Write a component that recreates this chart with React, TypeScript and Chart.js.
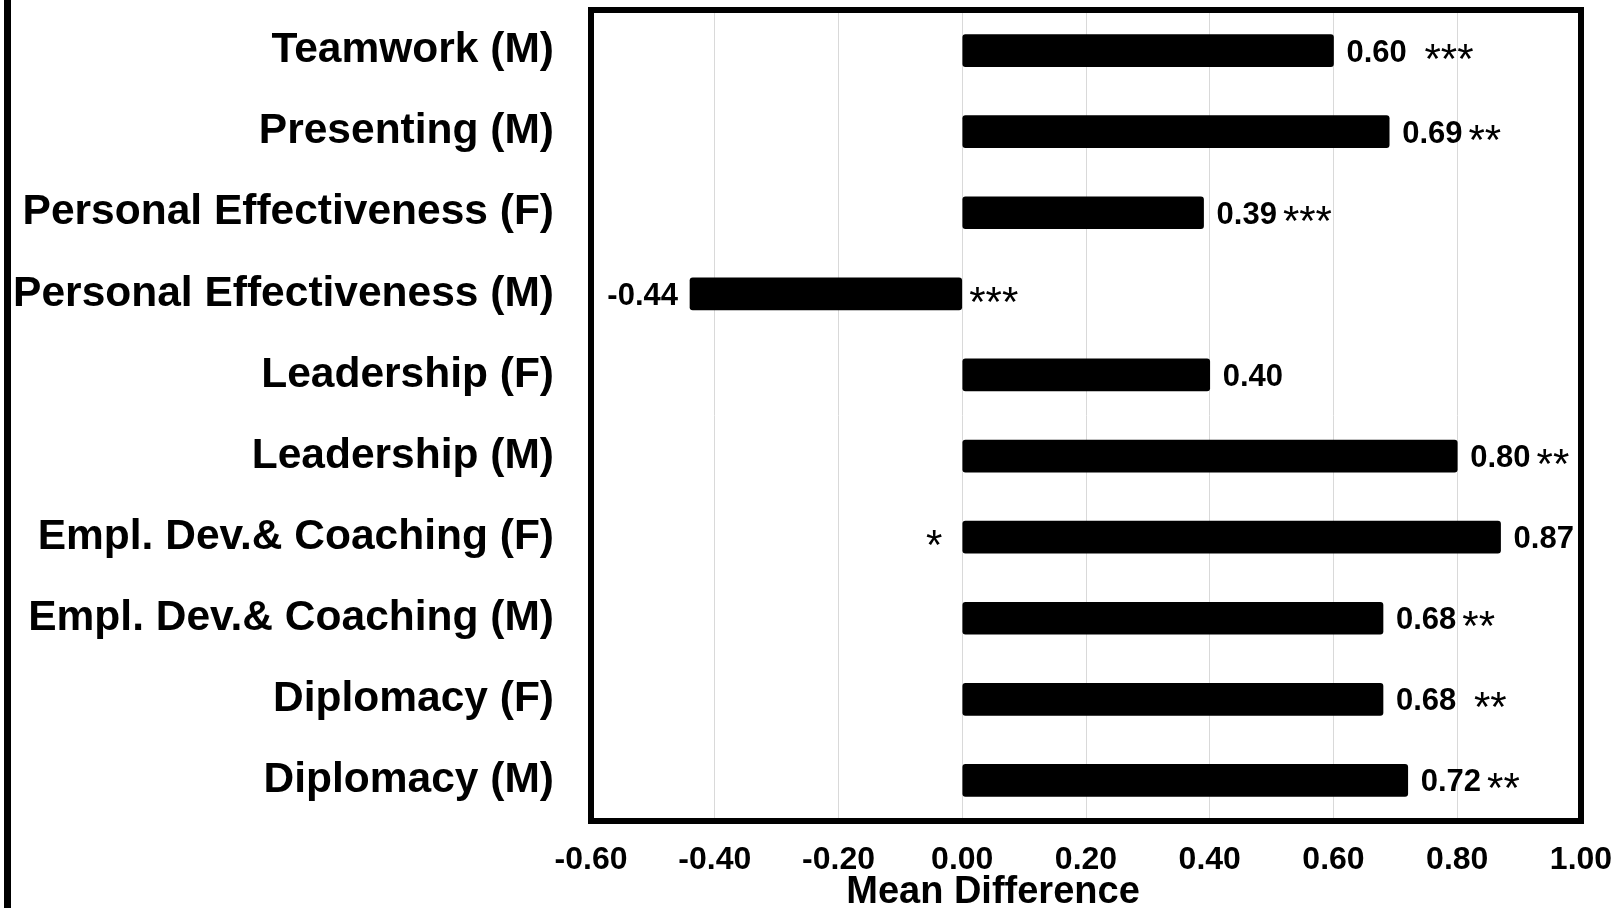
import React, { useEffect, useRef } from "react";
import { Chart, registerables } from "chart.js";

Chart.register(...registerables);

const categories = [
  "Teamwork (M)",
  "Presenting (M)",
  "Personal Effectiveness (F)",
  "Personal Effectiveness (M)",
  "Leadership (F)",
  "Leadership (M)",
  "Empl. Dev.& Coaching (F)",
  "Empl. Dev.& Coaching (M)",
  "Diplomacy (F)",
  "Diplomacy (M)",
];
const meanDiff = [0.6, 0.69, 0.39, -0.44, 0.4, 0.8, 0.87, 0.68, 0.68, 0.72];
const valueLabels = ["0.60", "0.69", "0.39", "-0.44", "0.40", "0.80", "0.87", "0.68", "0.68", "0.72"];
const significance = [" ***", "**", "***", "***", "", "**", "*", "**", " **", "**"];
const sigPlacement = ["after", "after", "after", "zeroRight", "after", "after", "zeroLeft", "after", "after", "after"];
const xTickLabels = ["-0.60", "-0.40", "-0.20", "0.00", "0.20", "0.40", "0.60", "0.80", "1.00"];
const xTitle = "Mean Difference";

const FONT = "'Liberation Sans', Arial, Helvetica, sans-serif";

const annotationPlugin = {
  id: "annotations",
  afterDatasetsDraw(chart: any) {
    const ctx = chart.ctx;
    const meta = chart.getDatasetMeta(0);
    const x0 = chart.scales.x.getPixelForValue(0);
    ctx.save();
    ctx.fillStyle = "#000";
    ctx.textBaseline = "alphabetic";
    meta.data.forEach((bar: any, i: number) => {
      const { x, y } = bar.getProps(["x", "y"], true);
      const v = meanDiff[i];
      ctx.font = `bold 31px ${FONT}`;
      const m0 = ctx.measureText("0");
      const by = y + (m0.actualBoundingBoxAscent - m0.actualBoundingBoxDescent) / 2;
      const txt = valueLabels[i];
      let textEnd = x;
      if (v >= 0) {
        ctx.textAlign = "left";
        ctx.fillText(txt, x + 13, by);
        textEnd = x + 13 + ctx.measureText(txt).width;
      } else {
        ctx.textAlign = "right";
        ctx.fillText(txt, x - 12, by);
      }
      const sig = significance[i];
      if (!sig) return;
      ctx.font = `42px ${FONT}`;
      const ms = ctx.measureText("*");
      const sy = y + 1 + (ms.actualBoundingBoxAscent - ms.actualBoundingBoxDescent) / 2;
      const place = sigPlacement[i];
      if (place === "after") {
        ctx.textAlign = "left";
        ctx.fillText(sig, textEnd + 6, sy);
      } else if (place === "zeroRight") {
        ctx.textAlign = "left";
        ctx.fillText(sig, x0 + 7, sy);
      } else {
        ctx.textAlign = "right";
        ctx.fillText(sig, x0 - 20, sy);
      }
    });
    ctx.restore();
  },
  afterDraw(chart: any) {
    const ctx = chart.ctx;
    const a = chart.chartArea;
    ctx.save();
    // plot frame
    ctx.strokeStyle = "#000";
    ctx.lineWidth = 6;
    ctx.strokeRect(a.left, a.top, a.right - a.left, a.bottom - a.top);
    // left page edge line
    ctx.fillStyle = "#000";
    ctx.fillRect(4, 0, 7, chart.height);
    // axis title
    ctx.font = `bold 38px ${FONT}`;
    ctx.textAlign = "center";
    ctx.textBaseline = "alphabetic";
    ctx.fillText(xTitle, 993, 903);
    ctx.restore();
  },
};

export default function App() {
  const canvasRef = useRef<HTMLCanvasElement | null>(null);

  useEffect(() => {
    document.body.style.margin = "0";
    const canvas = canvasRef.current;
    if (!canvas) return;
    const chart = new Chart(canvas, {
      type: "bar",
      data: {
        labels: categories,
        datasets: [
          {
            data: meanDiff,
            backgroundColor: "#000",
            borderWidth: 0,
            barThickness: 32,
            borderRadius: 3,
            borderSkipped: false,
          },
        ],
      },
      options: {
        responsive: false,
        animation: false,
        indexAxis: "y",
        layout: { padding: { left: 0, top: 10, right: 38, bottom: 0 } },
        plugins: {
          legend: { display: false },
          tooltip: { enabled: false },
          title: { display: false },
        },
        scales: {
          x: {
            type: "linear",
            min: -0.6,
            max: 1.0,
            ticks: {
              stepSize: 0.2,
              padding: 20,
              color: "#000",
              autoSkip: false,
              maxRotation: 0,
              font: { family: FONT, size: 32, weight: "bold" },
              callback: (_v: any, i: number) => xTickLabels[i] ?? "",
            },
            grid: { color: "#d9d9d9", lineWidth: 1, drawTicks: false },
            border: { display: false },
            afterFit(s: any) {
              s.height = 87;
              s.paddingLeft = 0;
              s.paddingRight = 0;
            },
          },
          y: {
            ticks: {
              padding: 37,
              color: "#000",
              autoSkip: false,
              font: { family: FONT, size: 42.5, weight: "bold" },
            },
            grid: { display: false, drawTicks: false },
            border: { display: false },
            afterFit(s: any) {
              s.width = 591;
              s.paddingTop = 0;
              s.paddingBottom = 0;
            },
          },
        },
      } as any,
      plugins: [annotationPlugin],
    });
    return () => chart.destroy();
  }, []);

  return (
    <div style={{ width: 1619, height: 908, overflow: "hidden", background: "#fff" }}>
      <canvas ref={canvasRef} width={1619} height={908} style={{ display: "block" }} />
    </div>
  );
}
